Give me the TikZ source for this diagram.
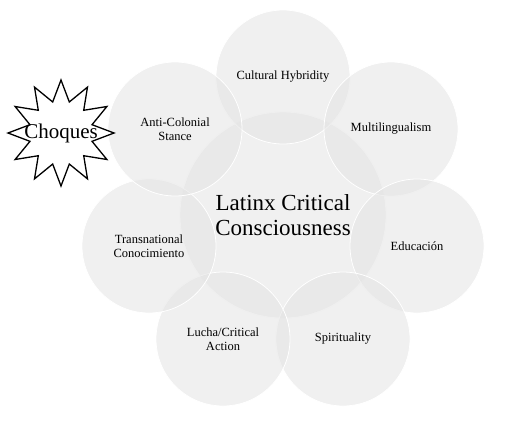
\documentclass[tikz,border=0pt]{standalone}
\usepackage{fontspec}
\setmainfont{Liberation Serif}
\usetikzlibrary{shapes.geometric,positioning}

\tikzset{
    theme/.style={circle, minimum size=134pt, inner sep=0pt, fill=gray!22, fill opacity=0.55,
        text opacity=1, draw=white, line width=0.8pt, align=center,
        font=\fontsize{12.5}{14}\selectfont},
    core/.style={theme, minimum size=206pt, font=\fontsize{23}{25}\selectfont},
    burst/.style={star, star points=12, star point ratio=1.65, minimum size=106pt,
        draw=black, line width=1.3pt, fill=white, inner sep=0pt}
}

\begin{document}
\begin{tikzpicture}[x=1pt,y=1pt]
    \useasboundingbox (0,0) rectangle (510,-421);

    % Centre
    \node[core] (core) at (283,-215) {Latinx Critical\\Consciousness};

    % Themes round the centre
    \node[theme] (hybrid) at (283,-77) {Cultural Hybridity};
    \node[theme] (multi) at (391,-129) {Multilingualism};
    \node[theme] (educ) at (417,-246) {Educación};
    \node[theme] (spirit) at (343,-339) {Spirituality};
    \node[theme] (lucha) at (223,-339) {Lucha/Critical\\Action};
    \node[theme] (trans) at (149,-246) {Transnational\\Conocimiento};
    \node[theme] (anti) at (175,-129) {Anti-Colonial\\Stance};

    % Burst
    \node[burst, label={[font=\fontsize{21}{23}\selectfont]center:Choques}] (choques) at (61,-133) {};
\end{tikzpicture}
\end{document}
